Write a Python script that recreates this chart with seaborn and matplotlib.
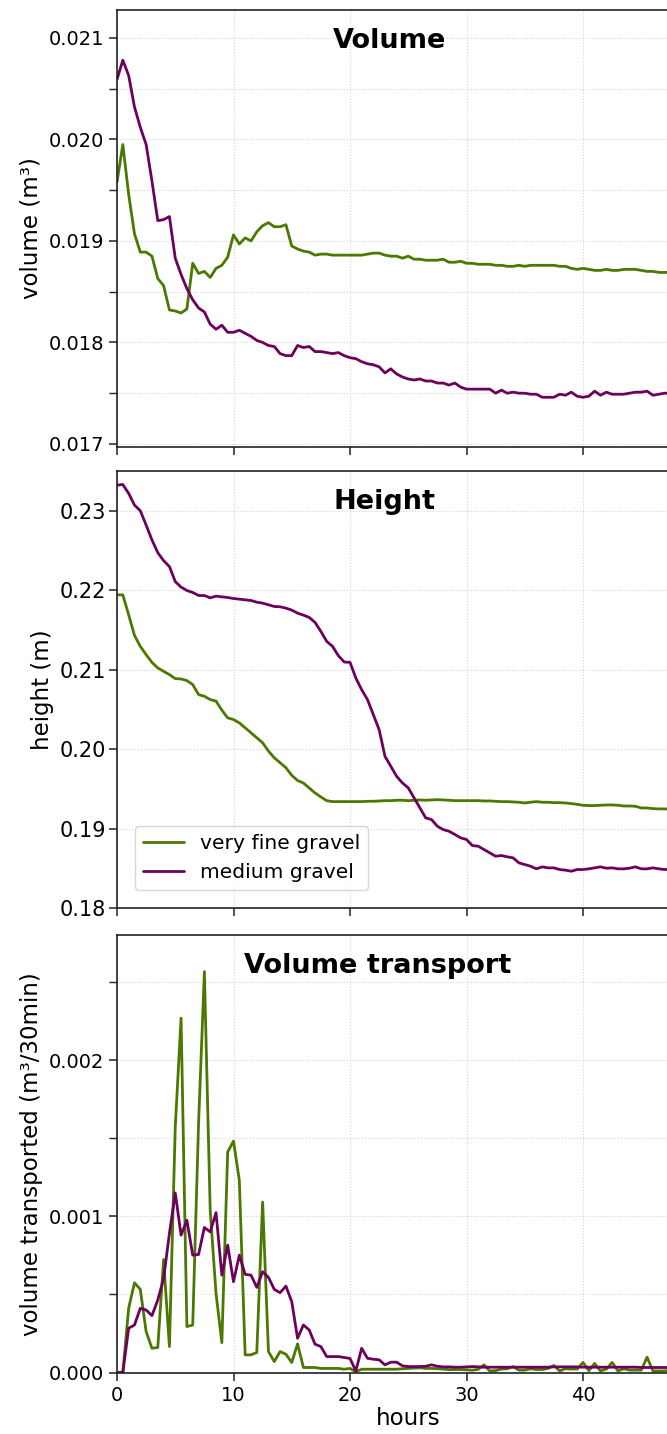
import numpy as np
import pandas as pd
import matplotlib
matplotlib.use("Agg")
import matplotlib.pyplot as plt
import seaborn as sns
from matplotlib.ticker import MultipleLocator, FixedLocator, FormatStrFormatter


sns.set_theme(style="ticks")
plt.rcParams["font.family"] = ["DejaVu Sans"]
plt.rcParams["text.color"] = "black"
plt.rcParams["axes.labelcolor"] = "black"
plt.rcParams["xtick.color"] = "black"
plt.rcParams["ytick.color"] = "black"

# half-hourly samples, 0 .. 50 h
hours = np.arange(0, 50.5, 0.5)

materials = ["very fine gravel", "medium gravel"]
colors = {"very fine gravel": "#4b7800", "medium gravel": "#6c005c"}

volume_fine = [
    0.01958, 0.01995, 0.01946, 0.01907, 0.01889, 0.01889, 0.01885, 0.01863, 0.01856, 0.01832,
    0.01831, 0.01829, 0.01833, 0.01878, 0.01868, 0.01870, 0.01864, 0.01873, 0.01876, 0.01884,
    0.01906, 0.01897, 0.01903, 0.01900, 0.01909, 0.01915, 0.01918, 0.01914, 0.01914, 0.01916,
    0.01895, 0.01892, 0.01890, 0.01889, 0.01886, 0.01887, 0.01887, 0.01886, 0.01886, 0.01886,
    0.01886, 0.01886, 0.01886, 0.01887, 0.01888, 0.01888, 0.01886, 0.01885, 0.01885, 0.01883,
    0.01885, 0.01882, 0.01882, 0.01881, 0.01881, 0.01881, 0.01882, 0.01879, 0.01879, 0.01880,
    0.01878, 0.01878, 0.01877, 0.01877, 0.01877, 0.01876, 0.01876, 0.01875, 0.01875, 0.01876,
    0.01875, 0.01876, 0.01876, 0.01876, 0.01876, 0.01876, 0.01875, 0.01875, 0.01873, 0.01872,
    0.01873, 0.01872, 0.01871, 0.01871, 0.01872, 0.01871, 0.01871, 0.01872, 0.01872, 0.01872,
    0.01871, 0.01870, 0.01870, 0.01869, 0.01869, 0.01869, 0.01868, 0.01868, 0.01868, 0.01867,
    0.01867,
]
volume_medium = [
    0.02059, 0.02078, 0.02063, 0.02032, 0.02012, 0.01995, 0.01959, 0.01920, 0.01921, 0.01924,
    0.01883, 0.01867, 0.01853, 0.01842, 0.01834, 0.01830, 0.01818, 0.01813, 0.01817, 0.01810,
    0.01810, 0.01812, 0.01809, 0.01806, 0.01802, 0.01800, 0.01797, 0.01796, 0.01789, 0.01787,
    0.01787, 0.01797, 0.01795, 0.01796, 0.01791, 0.01791, 0.01790, 0.01789, 0.01790, 0.01787,
    0.01785, 0.01784, 0.01781, 0.01779, 0.01778, 0.01776, 0.01770, 0.01774, 0.01769, 0.01766,
    0.01764, 0.01763, 0.01764, 0.01762, 0.01762, 0.01760, 0.01760, 0.01758, 0.01760, 0.01756,
    0.01754, 0.01754, 0.01754, 0.01754, 0.01754, 0.01750, 0.01753, 0.01750, 0.01751, 0.01750,
    0.01750, 0.01749, 0.01749, 0.01746, 0.01746, 0.01746, 0.01749, 0.01748, 0.01751, 0.01747,
    0.01746, 0.01747, 0.01752, 0.01748, 0.01751, 0.01749, 0.01749, 0.01749, 0.01750, 0.01751,
    0.01751, 0.01752, 0.01748, 0.01749, 0.01750, 0.01750, 0.01751, 0.01750, 0.01750, 0.01749,
    0.01750,
]

height_fine = [
    0.21941, 0.21941, 0.21690, 0.21431, 0.21293, 0.21188, 0.21092, 0.21021, 0.20979, 0.20937,
    0.20887, 0.20883, 0.20862, 0.20812, 0.20686, 0.20665, 0.20623, 0.20603, 0.20490, 0.20393,
    0.20372, 0.20330, 0.20268, 0.20205, 0.20142, 0.20080, 0.19975, 0.19891, 0.19828, 0.19766,
    0.19670, 0.19605, 0.19573, 0.19510, 0.19448, 0.19397, 0.19351, 0.19339, 0.19339, 0.19339,
    0.19339, 0.19339, 0.19339, 0.19343, 0.19343, 0.19347, 0.19351, 0.19351, 0.19356, 0.19356,
    0.19351, 0.19356, 0.19360, 0.19356, 0.19360, 0.19364, 0.19360, 0.19356, 0.19351, 0.19351,
    0.19351, 0.19351, 0.19351, 0.19347, 0.19347, 0.19343, 0.19339, 0.19339, 0.19335, 0.19331,
    0.19322, 0.19331, 0.19339, 0.19331, 0.19331, 0.19326, 0.19326, 0.19322, 0.19314, 0.19305,
    0.19293, 0.19289, 0.19289, 0.19293, 0.19297, 0.19297, 0.19293, 0.19284, 0.19284, 0.19280,
    0.19259, 0.19259, 0.19251, 0.19247, 0.19247, 0.19245, 0.19243, 0.19243, 0.19240, 0.19240,
    0.19238,
]
height_medium = [
    0.23322, 0.23330, 0.23218, 0.23071, 0.23000, 0.22820, 0.22632, 0.22473, 0.22372, 0.22297,
    0.22109, 0.22038, 0.21996, 0.21971, 0.21933, 0.21933, 0.21904, 0.21925, 0.21916, 0.21908,
    0.21895, 0.21887, 0.21879, 0.21870, 0.21849, 0.21837, 0.21816, 0.21795, 0.21791, 0.21774,
    0.21749, 0.21711, 0.21686, 0.21657, 0.21594, 0.21481, 0.21356, 0.21293, 0.21176, 0.21096,
    0.21092, 0.20895, 0.20748, 0.20623, 0.20434, 0.20245, 0.19910, 0.19784, 0.19658, 0.19574,
    0.19512, 0.19386, 0.19260, 0.19134, 0.19113, 0.19029, 0.18987, 0.18966, 0.18925, 0.18883,
    0.18862, 0.18786, 0.18778, 0.18736, 0.18694, 0.18652, 0.18660, 0.18644, 0.18631, 0.18568,
    0.18547, 0.18526, 0.18493, 0.18518, 0.18505, 0.18505, 0.18484, 0.18476, 0.18463, 0.18484,
    0.18484, 0.18493, 0.18505, 0.18518, 0.18501, 0.18505, 0.18493, 0.18493, 0.18501, 0.18518,
    0.18493, 0.18493, 0.18505, 0.18493, 0.18484, 0.18488, 0.18488, 0.18493, 0.18488, 0.18488,
    0.18484,
]

transport_fine = [
    0.0, 0.0, 0.000411, 0.000574, 0.000532, 0.000262, 0.000155, 0.000160, 0.000723, 0.000166,
    0.001570, 0.002268, 0.000294, 0.000304, 0.001590, 0.002566, 0.001038, 0.000506, 0.000191, 0.001411,
    0.001481, 0.001230, 0.000113, 0.000113, 0.000128, 0.001091, 0.000134, 0.000070, 0.000134, 0.000117,
    0.000064, 0.000183, 0.000032, 0.000032, 0.000032, 0.000026, 0.000026, 0.000026, 0.000026, 0.000021,
    0.000026, 0.000005, 0.000021, 0.000021, 0.000021, 0.000021, 0.000021, 0.000021, 0.000021, 0.000024,
    0.000026, 0.000028, 0.000030, 0.000026, 0.000026, 0.000024, 0.000022, 0.000018, 0.000019, 0.000019,
    0.000017, 0.000015, 0.000020, 0.000049, 0.000010, 0.000012, 0.000022, 0.000024, 0.000038, 0.000015,
    0.000015, 0.000024, 0.000019, 0.000019, 0.000026, 0.000045, 0.000010, 0.000024, 0.000022, 0.000022,
    0.000064, 0.000012, 0.000058, 0.000010, 0.000022, 0.000064, 0.000010, 0.000024, 0.000015, 0.000015,
    0.000015, 0.000098, 0.000010, 0.000010, 0.000010, 0.000015, 0.000015, 0.000020, 0.000015, 0.000015,
    0.000015,
]
transport_medium = [
    0.0, 0.0, 0.000283, 0.000304, 0.000411, 0.000400, 0.000364, 0.000464, 0.000602, 0.000889,
    0.001149, 0.000879, 0.000974, 0.000751, 0.000755, 0.000928, 0.000900, 0.001023, 0.000623, 0.000815,
    0.000581, 0.000751, 0.000628, 0.000623, 0.000545, 0.000645, 0.000609, 0.000532, 0.000511, 0.000553,
    0.000453, 0.000219, 0.000304, 0.000272, 0.000181, 0.000166, 0.000102, 0.000102, 0.000102, 0.000096,
    0.000090, 0.000010, 0.000155, 0.000091, 0.000085, 0.000081, 0.000049, 0.000066, 0.000066, 0.000043,
    0.000038, 0.000038, 0.000038, 0.000040, 0.000049, 0.000040, 0.000036, 0.000036, 0.000034, 0.000034,
    0.000036, 0.000038, 0.000036, 0.000034, 0.000034, 0.000034, 0.000034, 0.000034, 0.000034, 0.000034,
    0.000034, 0.000034, 0.000034, 0.000034, 0.000034, 0.000036, 0.000036, 0.000036, 0.000036, 0.000036,
    0.000034, 0.000034, 0.000034, 0.000034, 0.000034, 0.000034, 0.000034, 0.000034, 0.000034, 0.000034,
    0.000032, 0.000032, 0.000032, 0.000032, 0.000032, 0.000032, 0.000032, 0.000032, 0.000032, 0.000032,
    0.000032,
]

x_ticks = [0, 10, 20, 30, 40]

GRID = dict(color="#d4d4d4", linewidth=0.8, linestyle=":")


def to_long(fine, medium):
    return pd.DataFrame({
        "hours": np.concatenate([hours, hours]),
        "value": np.concatenate([fine, medium]),
        "material": [materials[0]] * len(hours) + [materials[1]] * len(hours),
    })


def draw_panel(ax, fine, medium, title, title_x, ylabel, ylim, major, minor, fmt,
               show_x=False, legend=False, ticksize=14):
    df = to_long(fine, medium)
    sns.lineplot(data=df, x="hours", y="value", hue="material", hue_order=materials,
                 palette=colors, estimator=None, linewidth=2.0, ax=ax, legend=legend)
    ax.set_xlim(0, 50)
    ax.set_ylim(*ylim)
    ax.xaxis.set_major_locator(FixedLocator(x_ticks))
    ax.yaxis.set_major_locator(MultipleLocator(major))
    ax.yaxis.set_major_formatter(FormatStrFormatter(fmt))
    ax.grid(which="major", **GRID)
    if minor:
        ax.yaxis.set_minor_locator(MultipleLocator(minor))
        ax.yaxis.grid(which="minor", **GRID)
    ax.set_axisbelow(True)
    for s in ax.spines.values():
        s.set_color("#222222")
        s.set_linewidth(1.2)
    ax.tick_params(which="major", length=6, width=1.1, color="#222222", labelsize=ticksize,
                   labelcolor="black")
    ax.tick_params(which="minor", length=6, width=1.0, color="#222222")
    ax.tick_params(axis="x", labelbottom=show_x)
    ax.set_ylabel(ylabel, fontsize=16.5, color="black")
    if show_x:
        ax.set_xlabel("hours", fontsize=16.5, labelpad=2, color="black")
    else:
        ax.set_xlabel("")
    ax.text(title_x, 1 - 18 / 437, title, transform=ax.transAxes, ha="center", va="top",
            fontsize=19.5, fontweight="bold", color="black")


fig = plt.figure(figsize=(6.67, 14.34), dpi=100)
W, H = 667.0, 1434.0
left = 117 / W
width = 582.5 / W
ax1 = fig.add_axes([left, (H - 447) / H, width, 437.5 / H])
ax2 = fig.add_axes([left, (H - 908) / H, width, 437 / H])
ax3 = fig.add_axes([left, (H - 1372.5) / H, width, 437.5 / H])

draw_panel(ax1, volume_fine, volume_medium, "Volume", 0.468, "volume (m\u00b3)",
           (0.01697, 0.02128), 0.001, 0.0005, "%.3f")
draw_panel(ax2, height_fine, height_medium, "Height", 0.46, "height (m)",
           (0.18, 0.235), 0.01, None, "%.2f", legend=True, ticksize=15)
ax2.tick_params(axis="y", pad=2)
draw_panel(ax3, transport_fine, transport_medium, "Volume transport", 0.447,
           "volume transported (m\u00b3/30min)", (0.0, 0.0028), 0.001, 0.0005, "%.3f",
           show_x=True)

sns.move_legend(ax2, "lower left", bbox_to_anchor=(18 / 582.5, 18 / 437), borderaxespad=0,
                title=None, fontsize=14.6, frameon=True, handlelength=2.0)
for t in ax2.get_legend().get_texts():
    t.set_color("black")

fig.savefig("out.png", dpi=100)
